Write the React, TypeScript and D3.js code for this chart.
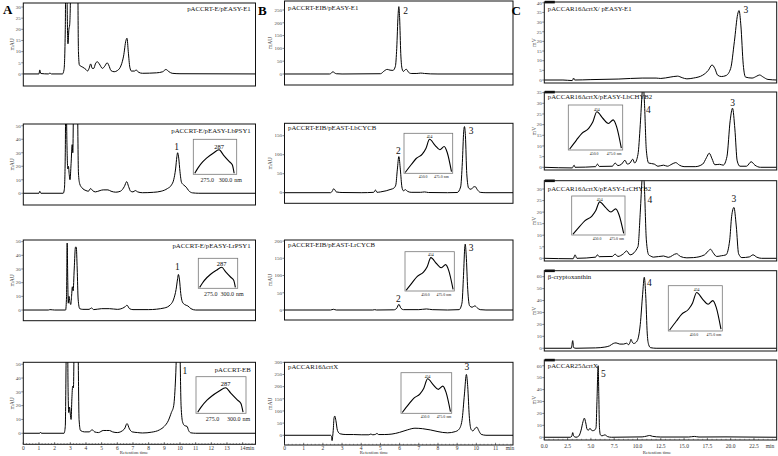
import React from "react";
import * as d3 from "d3";

type Pt = [number, number];

// ---------------- DATA ----------------
const traceA1: Pt[] = [[0,0],[1.0,0],[1.05,1.8],[1.12,0.2],[1.6,0],[1.7,0.4],[1.8,0],[2.5,0],[2.6,2],[2.68,20],[2.74,80],[2.8,30],[2.85,13.5],[2.91,20],[2.96,22],[3.02,40],[3.1,120],[3.3,200],[3.45,80],[3.52,10],[3.58,4],[3.8,3],[4.0,2],[4.1,1.3],[4.2,2.5],[4.3,4.5],[4.4,2.5],[4.5,2.5],[4.6,4.5],[4.72,5.5],[4.85,4.5],[5.05,2.5],[5.2,3.5],[5.35,5],[5.45,4],[5.6,1.5],[5.8,1],[6.0,1.5],[6.25,4],[6.4,8],[6.55,15],[6.62,16],[6.7,10],[6.8,3],[6.9,1.3],[7.1,1.3],[7.2,1.8],[7.35,0.8],[7.6,0.3],[8.5,0.5],[8.9,1],[9.1,2],[9.3,1],[9.5,0.3],[10,0.1],[14.82,0]];
const traceA2: Pt[] = [[0,0],[1.0,0],[1.05,1.5],[1.12,0],[2.55,0],[2.62,3],[2.68,30],[2.72,90],[2.78,40],[2.84,18],[2.88,20],[2.93,14],[2.98,10],[3.05,22],[3.12,36],[3.16,30],[3.22,90],[3.35,150],[3.45,80],[3.52,15],[3.6,7],[3.75,4],[4.0,2],[4.15,1.5],[4.3,3.5],[4.42,2],[4.6,1],[4.9,2],[5.1,2.5],[5.4,2.5],[5.6,1.5],[5.9,0.8],[6.2,1.5],[6.45,5],[6.6,8.6],[6.72,5],[6.85,1.5],[7.0,1],[7.15,2],[7.3,1],[7.6,0.4],[8.3,0.7],[8.8,1.5],[9.2,3.5],[9.45,6],[9.6,10],[9.72,18],[9.8,27],[9.85,30],[9.92,26],[10.0,16],[10.1,8],[10.25,6],[10.4,4.5],[10.55,2],[10.8,0.3],[11.2,0],[14.82,0]];
const traceA3: Pt[] = [[0,0],[1.6,0],[1.7,0.3],[2.0,0],[2.7,0],[2.76,10],[2.8,49],[2.84,20],[2.87,5],[2.92,10],[2.97,6],[3.03,4],[3.08,10],[3.13,17],[3.18,14],[3.25,30],[3.33,46],[3.38,46],[3.44,30],[3.5,8],[3.6,1],[3.8,0.5],[4.2,0.5],[4.35,1.5],[4.5,0.3],[5.0,1],[5.5,1],[6.0,0.5],[6.45,2],[6.62,3.5],[6.78,1],[7.0,0.3],[8.0,0.3],[9.0,1.5],[9.4,4],[9.6,8],[9.75,15],[9.85,23],[9.9,26],[9.97,22],[10.05,12],[10.15,6],[10.3,4],[10.5,3],[10.7,1],[11.0,0],[14.82,0]];
const traceA4: Pt[] = [[0,0],[1.05,0],[1.1,0.8],[1.15,0],[2.6,0],[2.68,5],[2.74,60],[2.8,100],[2.86,30],[2.9,15],[2.95,19],[3.0,14],[3.05,10],[3.1,25],[3.15,34],[3.2,33],[3.27,100],[3.4,150],[3.5,60],[3.56,10],[3.65,2],[3.9,1],[4.2,1],[4.4,2.5],[4.55,1],[4.8,0.5],[5.1,2],[5.3,2],[5.5,2],[5.7,1],[6.0,0.5],[6.45,3],[6.62,7],[6.78,3],[6.95,1],[7.3,0.5],[7.6,0.2],[8.2,0.8],[8.7,2.5],[9.0,5],[9.25,9],[9.45,15],[9.6,20],[9.72,40],[9.84,80],[9.92,95],[10.0,60],[10.07,20],[10.17,8],[10.3,5.5],[10.45,5],[10.55,2],[10.7,0.3],[11,0],[14.82,0]];

const traceB1: Pt[] = [[0,0],[2.35,0],[2.45,4],[2.52,9],[2.6,5],[2.7,1],[3,0],[5.0,1],[5.2,12],[5.35,18],[5.5,15],[5.65,14],[5.78,30],[5.85,100],[5.92,230],[5.96,263],[6.0,220],[6.06,80],[6.13,20],[6.2,10],[6.3,17],[6.36,18],[6.45,8],[6.6,2],[6.9,2],[7.1,3.5],[7.3,2],[7.6,0.5],[8,0],[11.91,0]];
const traceB2: Pt[] = [[0,0],[2.4,0],[2.5,5],[2.55,10],[2.62,8],[2.7,2],[3.0,0.5],[4.0,0],[4.65,1],[4.74,7],[4.82,1],[5.0,2],[5.3,5],[5.55,9],[5.7,12],[5.8,20],[5.88,60],[5.96,95],[6.04,60],[6.12,15],[6.2,5],[6.3,8],[6.4,4],[6.6,1],[7.1,1],[7.3,2],[7.5,0.5],[8.5,0],[9.0,0.5],[9.18,15],[9.27,80],[9.34,160],[9.38,174],[9.43,150],[9.5,50],[9.6,12],[9.72,9],[9.85,15],[9.94,16],[10.05,8],[10.2,1],[10.5,0],[11.91,0]];
const traceB3: Pt[] = [[0,0],[2.4,0],[2.55,2],[2.7,0],[4.6,0],[4.7,1],[4.8,0],[5.7,0.5],[5.85,5],[5.96,16.5],[6.07,5],[6.2,1],[7.0,1],[7.4,3],[7.7,1],[8.5,0],[9.1,1],[9.25,20],[9.33,100],[9.4,185],[9.42,191],[9.47,160],[9.55,60],[9.65,12],[9.78,8],[9.92,12],[10.05,6],[10.2,1],[10.5,0],[11.91,0]];
const traceB4: Pt[] = [[0,0],[2.4,0],[2.45,-5],[2.48,-22],[2.51,-5],[2.54,20],[2.58,70],[2.62,79],[2.68,60],[2.76,20],[2.9,6],[3.2,3],[3.6,3],[4.0,2],[4.4,2],[4.5,5],[4.6,2],[4.75,4],[4.82,8],[4.9,3],[5.2,3],[5.6,5],[6.0,12],[6.4,22],[6.8,29],[7.2,27],[7.6,22],[8.0,15],[8.5,10],[8.9,15],[9.1,25],[9.25,60],[9.38,170],[9.48,250],[9.55,200],[9.63,80],[9.72,25],[9.82,18],[9.95,30],[10.03,33],[10.12,20],[10.25,4],[10.5,0],[11.91,0]];

const traceC1: Pt[] = [[0,0],[2,0],[3.0,-0.3],[3.15,1],[3.25,0],[5,0.2],[8,0.5],[10.5,1],[12,1],[12.5,0.8],[13.5,1.5],[14.3,2],[14.8,1.2],[15.3,0.6],[16,1],[17,2.5],[17.6,5],[18.0,7.8],[18.3,6],[18.6,2.5],[19.0,1.8],[19.5,2.3],[20.0,6],[20.4,20],[20.75,34],[20.9,36],[21.1,28],[21.35,8],[21.6,1.5],[22.3,1],[22.8,2],[23.1,2.6],[23.5,1.5],[24.0,0.3],[24.94,0]];
const traceC2: Pt[] = [[0,0],[3.0,-0.3],[3.2,1],[3.3,0],[5.5,0.3],[5.7,1.5],[5.9,0.4],[7.3,0.5],[7.6,2],[7.9,0.8],[8.3,1.5],[8.66,3.3],[8.9,1.5],[9.2,2],[9.48,3.8],[9.7,2],[10.05,6],[10.3,20],[10.5,35],[10.6,40],[10.75,30],[10.95,8],[11.2,2],[11.8,1.5],[12.2,0.5],[12.8,1],[13.2,0.5],[13.7,1.5],[14.1,2.2],[14.5,1],[15,0.3],[16.2,0.3],[17,1.5],[17.4,4.5],[17.7,6.6],[18.0,4],[18.3,1.2],[18.8,1.4],[19.2,1],[19.6,5],[19.95,22],[20.2,27.7],[20.45,18],[20.7,3],[21.0,0.5],[21.7,0.5],[22.2,2.6],[22.6,1],[23.2,0],[24.94,0]];
const traceC3: Pt[] = [[0,0],[3.1,-0.2],[3.3,1.5],[3.5,0],[5.5,0.5],[5.7,1.5],[5.9,0.7],[7.3,0.8],[7.6,1.8],[7.9,0.8],[8.5,2],[8.84,3.2],[9.2,1.5],[10.05,5],[10.3,20],[10.5,35],[10.6,40],[10.75,30],[10.95,8],[11.2,1.5],[11.4,1],[11.7,0.5],[12.8,1],[13.3,0.4],[14.2,2],[14.6,0.8],[15.3,0.2],[16,0.3],[17.2,1.5],[17.6,3.2],[17.85,3.9],[18.1,2.5],[18.5,0.8],[19.0,1.1],[19.5,1.5],[19.9,8],[20.1,18],[20.35,22],[20.6,14],[20.85,2],[21.2,0.3],[22.0,0.6],[22.4,1.5],[22.8,0.5],[23.3,0],[24.94,0]];
const traceC4: Pt[] = [[0,0],[2.9,0],[3.05,6.4],[3.15,0.5],[3.4,0],[5.5,0.3],[6.5,1],[7.0,2],[7.4,4],[7.7,4.5],[8.1,3.5],[8.5,3.5],[8.84,4.2],[9.05,3],[9.2,5],[9.3,7.5],[9.45,5],[9.6,4],[9.95,6],[10.3,20],[10.55,45],[10.73,59.5],[10.88,45],[11.05,12],[11.2,3],[11.4,0.5],[12,0],[24.94,0]];
const traceC5: Pt[] = [[0,0],[2.8,0],[2.95,1],[3.05,3.9],[3.15,1],[3.4,0],[3.7,1],[3.95,6],[4.15,13],[4.3,16],[4.45,12],[4.6,6.5],[4.75,6],[4.9,7.5],[5.05,6],[5.2,5.5],[5.4,6],[5.55,8],[5.65,30],[5.78,60],[5.85,35],[5.92,8],[6.02,2],[6.2,1.2],[6.5,2],[6.8,0.5],[7.2,0],[10.5,0.3],[11.0,1],[11.3,1.5],[11.6,0.8],[12.5,0.2],[15.5,0.2],[16.1,0.7],[16.6,0.2],[19.5,0.3],[24.94,0]];

// UV spectra of the insets (wavelength nm, relative absorbance)
const spec287: Pt[] = [[254,0.03],[258,0.17],[265,0.36],[270,0.46],[279,0.6],[287,0.7],[293,0.55],[301,0.36],[305,0.27],[307.5,0.03]];
const spec454: Pt[] = [[414,0.02],[424,0.22],[432,0.37],[442,0.48],[448,0.62],[454,0.85],[463,0.7],[471,0.59],[478,0.67],[483,0.52],[490,0.04]];
const insetTicks287 = [275, 300];
const insetTicks454 = [450, 475];

// axis ranges & ticks
const xRangeA = 14.82, xRangeB = 11.91, xRangeC = 24.94;
const xTicksA = [0,1,2,3,4,5,6,7,8,9,10,11,12,13,14];
const xTicksB = [0,1,2,3,4,5,6,7,8,9,10,11];
const xTicksC = [0,2.5,5,7.5,10,12.5,15,17.5,20,22.5];
const yTicksA1 = [0,5,10,15,20,25,30];
const yTicksA = [0,10,20,30,40,50];
const yTicksB1 = [0,50,100,150,200,250];
const yTicksB2 = [0,50,100,150];
const yTicksB3 = [0,50,100,150,200];
const yTicksB4 = [0,50,100,150,200,250,300];
const yTicksC1 = [0,5,10,15,20,25,30,35,40];
const yTicksC2 = [0,5,10,15,20,25,30,35];
const yTicksC3 = [0,5,10,15,20,25,30];
const yTicksC45 = [0,10,20,30,40,50,60];

// peak number labels (time, signal)
const peaksA2 = [{ t: 9.79, v: 34.5, s: "1" }];
const peaksA3 = [{ t: 9.83, v: 31.3, s: "1" }];
const peaksA4 = [{ t: 10.32, v: 45.4, s: "1" }];
const peaksB1 = [{ t: 6.31, v: 246, s: "2" }];
const peaksB2 = [{ t: 5.94, v: 110, s: "2" }, { t: 9.73, v: 163, s: "3" }];
const peaksB3 = [{ t: 5.94, v: 32, s: "2" }, { t: 9.73, v: 179, s: "3" }];
const peaksB4 = [{ t: 9.5, v: 279, s: "3" }];
const peaksC1 = [{ t: 21.64, v: 36.3, s: "3" }];
const peaksC2 = [{ t: 11.16, v: 26.9, s: "4" }, { t: 20.21, v: 30, s: "3" }];
const peaksC3 = [{ t: 11.34, v: 25.2, s: "4" }, { t: 20.35, v: 25.6, s: "3" }];
const peaksC4 = [{ t: 11.27, v: 55, s: "4" }];
const peaksC5 = [{ t: 6.33, v: 53, s: "5" }];

// ---------------- LAYOUT ----------------
const FONT = '"Liberation Serif", "Times New Roman", serif';

interface Inset { box: [number, number, number, number]; kind: "287" | "454"; shift: number }
interface PanelDef {
  id: string; trace: Pt[]; title: string; titleAlign: "start" | "end"; titleY: number;
  x0: number; x1: number; xMax: number; top: number; bottom: number;
  yDom: [number, number]; yTicks: number[]; peaks: { t: number; v: number; s: string }[];
  yLabel: string; yLabelX: number; inset?: Inset; corner?: boolean;
  xAxis?: { ticks: number[]; fmt: (d: number) => string; minor: number; labelY: number; minX: number; rtX: number; rtY: number };
}

const A = { x0: 23.3, x1: 255.5, xMax: xRangeA, yLabel: "mAU", yLabelX: 14, titleAlign: "end" as const };
const B = { x0: 284.5, x1: 513, xMax: xRangeB, yLabel: "mAU", yLabelX: 272, titleAlign: "start" as const };
const C = { x0: 544.3, x1: 776.7, xMax: xRangeC, yLabel: "mV", yLabelX: 535.5, titleAlign: "start" as const, corner: true };

const panels: PanelDef[] = [
  { ...A, id: "A1", trace: traceA1, title: "pACCRT-E/pEASY-E1", titleY: 11, top: 3, bottom: 86, yDom: [-5.4, 31.8], yTicks: yTicksA1, peaks: [] },
  { ...A, id: "A2", trace: traceA2, title: "pACCRT-E/pEASY-LbPSY1", titleY: 133, top: 124, bottom: 205, yDom: [-8.7, 51.3], yTicks: yTicksA, peaks: peaksA2, inset: { box: [193.3, 139.3, 236.7, 174.3], kind: "287", shift: -3 } },
  { ...A, id: "A3", trace: traceA3, title: "pACCRT-E/pEASY-LrPSY1", titleY: 248, top: 240, bottom: 320.7, yDom: [-7.8, 51.2], yTicks: yTicksA, peaks: peaksA3, inset: { box: [198.3, 258.3, 237.7, 288.3], kind: "287", shift: -3 } },
  { ...A, id: "A4", trace: traceA4, title: "pACCRT-EB", titleY: 372, top: 362.3, bottom: 444.3, yDom: [-8, 51.4], yTicks: yTicksA, peaks: peaksA4, inset: { box: [196, 376.7, 246, 413.3], kind: "287", shift: -3 },
    xAxis: { ticks: xTicksA, fmt: (d) => String(d), minor: 0.2, labelY: 449.5, minX: 250, rtX: 134, rtY: 454 } },
  { ...B, id: "B1", trace: traceB1, title: "pACCRT-EIB/pEASY-E1", titleY: 10, top: 1, bottom: 85, yDom: [-43, 285], yTicks: yTicksB1, peaks: peaksB1 },
  { ...B, id: "B2", trace: traceB2, title: "pACCRT-EIB/pEAST-LbCYCB", titleY: 130, top: 123.3, bottom: 203.3, yDom: [-27.9, 182.6], yTicks: yTicksB2, peaks: peaksB2, inset: { box: [404, 133.3, 452.7, 173.3], kind: "454", shift: -4 } },
  { ...B, id: "B3", trace: traceB3, title: "pACCRT-EIB/pEAST-LrCYCB", titleY: 247, top: 240, bottom: 320, yDom: [-29, 203], yTicks: yTicksB3, peaks: peaksB3, inset: { box: [405, 251.7, 454.3, 291], kind: "454", shift: -3 } },
  { ...B, id: "B4", trace: traceB4, title: "pACCAR16ΔcrtX", titleY: 368.5, top: 362.3, bottom: 445, yDom: [-40, 300], yTicks: yTicksB4, peaks: peaksB4, inset: { box: [401, 372.7, 451.7, 413.3], kind: "454", shift: 0 },
    xAxis: { ticks: xTicksB, fmt: (d) => String(d), minor: 0.2, labelY: 449.5, minX: 510, rtX: 374, rtY: 454 } },
  { ...C, id: "C1", trace: traceC1, title: "pACCAR16ΔcrtX/ pEASY-E1", titleY: 10.8, top: 2, bottom: 83, yDom: [-1.55, 40.4], yTicks: yTicksC1, peaks: peaksC1 },
  { ...C, id: "C2", trace: traceC2, title: "pACCAR16ΔcrtX/pEASY-LbCHYB2", titleY: 99, top: 92, bottom: 170, yDom: [-1.27, 35.3], yTicks: yTicksC2, peaks: peaksC2, inset: { box: [568.3, 105, 622.7, 150], kind: "454", shift: 0 } },
  { ...C, id: "C3", trace: traceC3, title: "pACCAR16ΔcrtX/pEASY-LrCHYB2", titleY: 191, top: 180.7, bottom: 261, yDom: [-1.17, 33.6], yTicks: yTicksC3, peaks: peaksC3, inset: { box: [571.7, 196, 625, 235], kind: "454", shift: 0 } },
  { ...C, id: "C4", trace: traceC4, title: "β-cryptoxanthin", titleY: 279, top: 270.7, bottom: 351, yDom: [-2.3, 65], yTicks: yTicksC45, peaks: peaksC4, inset: { box: [668.3, 285.7, 722.3, 331], kind: "454", shift: 0 } },
  { ...C, id: "C5", trace: traceC5, title: "pACCAR25ΔcrtX", titleY: 367.5, top: 360, bottom: 440, yDom: [-2.3, 64.8], yTicks: yTicksC45, peaks: peaksC5,
    xAxis: { ticks: xTicksC, fmt: (d) => d.toFixed(1), minor: 0.5, labelY: 447.5, minX: 770, rtX: 657, rtY: 453.5 } },
];

function InsetSpec({ inset }: { inset: Inset }) {
  const [bx0, by0, bx1, by1] = inset.box;
  const is287 = inset.kind === "287";
  const data = is287 ? spec287 : spec454;
  const dom = is287 ? [252, 311] : [412, 492];
  const ticks = is287 ? insetTicks287 : insetTicks454;
  const peakNm = is287 ? 287 : 454;
  const fs = is287 ? 6 : 3.8;
  const sx = d3.scaleLinear().domain(dom).range([bx0, bx1]);
  const sy = d3.scaleLinear().domain([0, 1]).range([by1, by0]);
  const line = d3.line<Pt>().x((d) => sx(d[0])).y((d) => sy(d[1])).curve(d3.curveMonotoneX);
  const peakV = d3.max(data, (d) => d[1]) as number;
  const numHalf = fs * 1.15;
  return (
    <g>
      <rect x={bx0} y={by0} width={bx1 - bx0} height={by1 - by0} fill="white" stroke="#777" strokeWidth={0.8} />
      <path d={line(data) || ""} fill="none" stroke="#000" strokeWidth={1.1} />
      <text x={sx(peakNm)} y={sy(peakV) - 1.2} fontSize={is287 ? 6.5 : 3.8} textAnchor="middle" fontFamily={FONT}>{String(peakNm)}</text>
      {ticks.map((t, i) => (
        <g key={t}>
          <text x={sx(t) + inset.shift} y={by1 + fs * 1.2} fontSize={fs} textAnchor="middle" fontFamily={FONT} fill="#222">{t.toFixed(1)}</text>
          {i === ticks.length - 1 && (
            <text x={sx(t) + inset.shift + numHalf + fs * 0.3} y={by1 + fs * 1.2} fontSize={fs} textAnchor="start" fontFamily={FONT} fill="#222">nm</text>
          )}
        </g>
      ))}
    </g>
  );
}

function Panel({ p }: { p: PanelDef }) {
  const x = d3.scaleLinear().domain([0, p.xMax]).range([p.x0, p.x1]);
  const y = d3.scaleLinear().domain(p.yDom).range([p.bottom, p.top]);
  const line = d3.line<Pt>().x((d) => x(d[0])).y((d) => y(d[1])).curve(d3.curveMonotoneX);
  const clipId = "clip-" + p.id;
  const midY = (p.top + p.bottom) / 2;
  const minorTicks = p.xAxis ? d3.range(0, p.xMax + 1e-9, p.xAxis.minor) : [];
  return (
    <g>
      <defs>
        <clipPath id={clipId}>
          <rect x={p.x0} y={p.top} width={p.x1 - p.x0} height={p.bottom - p.top} />
        </clipPath>
      </defs>
      <rect x={p.x0} y={p.top} width={p.x1 - p.x0} height={p.bottom - p.top} fill="white" stroke="#111" strokeWidth={1} />
      {p.corner && <rect x={p.x0 + 0.5} y={p.top - 1.2} width={10} height={2.6} fill="#111" />}
      <path d={line(p.trace) || ""} fill="none" stroke="#000" strokeWidth={1} clipPath={`url(#${clipId})`} strokeLinejoin="round" />
      {p.yTicks.map((t) => (
        <g key={t}>
          <line x1={p.x0 - 2} x2={p.x0} y1={y(t)} y2={y(t)} stroke="#333" strokeWidth={0.6} />
          <text x={p.x0 - 2.5} y={y(t) + 1.8} fontSize={5} textAnchor="end" fontFamily={FONT} fill="#444">{t}</text>
        </g>
      ))}
      <text transform={`translate(${p.yLabelX},${midY}) rotate(-90)`} fontSize={5.5} textAnchor="middle" fontFamily={FONT} fill="#333">{p.yLabel}</text>
      <text x={p.titleAlign === "end" ? p.x1 - 4.8 : p.x0 + 3.5} y={p.titleY} fontSize={6.8} textAnchor={p.titleAlign} fontFamily={FONT} fill="#111">{p.title}</text>
      {p.peaks.map((pk, i) => (
        <text key={i} x={x(pk.t)} y={y(pk.v)} fontSize={9.5} textAnchor="middle" dominantBaseline="central" fontFamily={FONT} fill="#111">{pk.s}</text>
      ))}
      {p.inset && <InsetSpec inset={p.inset} />}
      {p.xAxis && (
        <g>
          {minorTicks.map((t, i) => (
            <line key={"m" + i} x1={x(t)} x2={x(t)} y1={p.bottom} y2={p.bottom - 1.2} stroke="#333" strokeWidth={0.5} />
          ))}
          {p.xAxis.ticks.map((t) => (
            <g key={t}>
              <line x1={x(t)} x2={x(t)} y1={p.bottom} y2={p.bottom - 2.2} stroke="#333" strokeWidth={0.6} />
              <text x={x(t)} y={p.xAxis!.labelY} fontSize={5.5} textAnchor="middle" fontFamily={FONT} fill="#333">{p.xAxis!.fmt(t)}</text>
            </g>
          ))}
          <text x={p.xAxis.minX} y={p.xAxis.labelY} fontSize={5.5} textAnchor="middle" fontFamily={FONT} fill="#333">min</text>
          <text x={p.xAxis.rtX} y={p.xAxis.rtY} fontSize={4.8} textAnchor="middle" fontFamily={FONT} fill="#333">Retention time</text>
        </g>
      )}
    </g>
  );
}

export default function App() {
  return (
    <svg width={778} height={456} style={{ position: "absolute", left: 0, top: 0, background: "white" }} fontFamily={FONT}>
      <rect x={0} y={0} width={778} height={456} fill="white" />
      {panels.map((p) => <Panel key={p.id} p={p} />)}
      <text x={3} y={14} fontSize={13} fontWeight="bold" fontFamily={FONT}>A</text>
      <text x={258} y={14.5} fontSize={13} fontWeight="bold" fontFamily={FONT}>B</text>
      <text x={511.5} y={14.5} fontSize={13} fontWeight="bold" fontFamily={FONT}>C</text>
    </svg>
  );
}
